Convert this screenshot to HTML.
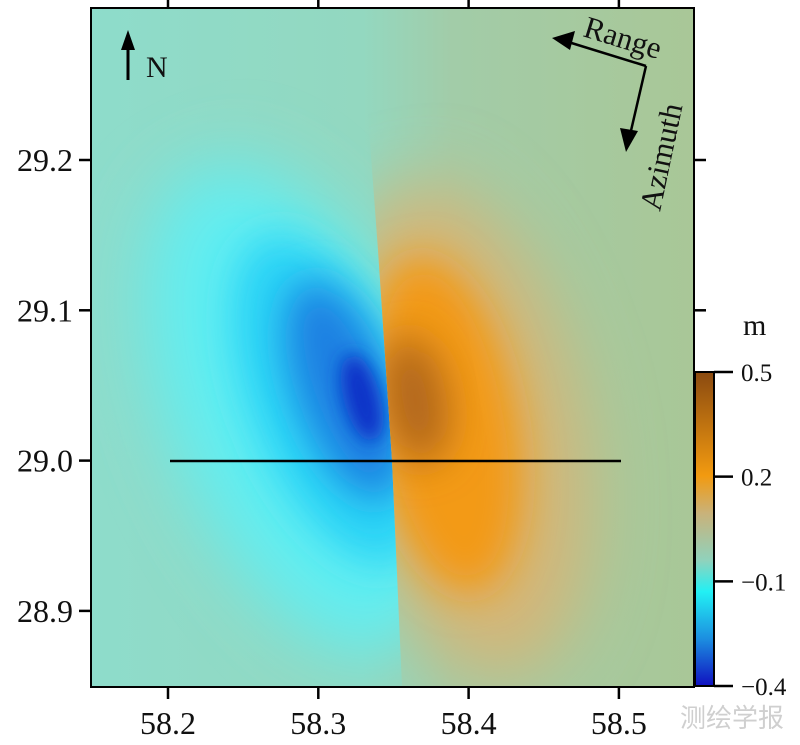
<!DOCTYPE html>
<html><head><meta charset="utf-8"><style>
body{margin:0;background:#fff;width:800px;height:740px;overflow:hidden}
svg text{font-family:"Liberation Serif","DejaVu Serif",serif;font-style:normal;fill:#111}
</style></head><body>
<svg width="800" height="740" font-family="Liberation Serif, serif">
<defs>
<linearGradient id="bg" x1="0" x2="1" y1="0" y2="0">
<stop offset="0" stop-color="#8edccb"/><stop offset="0.45" stop-color="#93d8c0"/><stop offset="0.6" stop-color="#a2cca8"/><stop offset="1" stop-color="#a9c797"/>
</linearGradient>
<linearGradient id="cb" x1="0" x2="0" y1="0" y2="1">
<stop offset="0" stop-color="#8a4a10"/><stop offset="0.33" stop-color="#f29a10"/><stop offset="0.45" stop-color="#c9b27a"/><stop offset="0.6" stop-color="#90d2bc"/><stop offset="0.7" stop-color="#22f0f4"/><stop offset="0.85" stop-color="#1c8ee0"/><stop offset="1" stop-color="#1010c0"/>
</linearGradient>
<filter id="b1" x="-50%" y="-50%" width="200%" height="200%"><feGaussianBlur stdDeviation="35"/></filter>
<filter id="b2" x="-50%" y="-50%" width="200%" height="200%"><feGaussianBlur stdDeviation="20"/></filter>
<filter id="b3" x="-50%" y="-50%" width="200%" height="200%"><feGaussianBlur stdDeviation="9"/></filter>
<clipPath id="plot"><rect x="91" y="8" width="603" height="679"/></clipPath>
<clipPath id="left"><polygon points="91,8 360,8 378,250 392,460 402,687 91,687"/></clipPath>
<clipPath id="right"><polygon points="360,8 694,8 694,687 402,687 392,460 378,250"/></clipPath>
</defs>
<g clip-path="url(#plot)">
<rect x="91" y="8" width="603" height="679" fill="url(#bg)"/>
<g clip-path="url(#left)">
<ellipse cx="300" cy="410" rx="130" ry="260" transform="rotate(-22 300 410)" fill="#60eef2" filter="url(#b1)"/>
<ellipse cx="330" cy="400" rx="80" ry="175" transform="rotate(-22 330 400)" fill="#2ad4f6" filter="url(#b2)"/>
<ellipse cx="345" cy="390" rx="48" ry="115" transform="rotate(-20 345 390)" fill="#1a80e2" filter="url(#b2)"/>
<ellipse cx="362" cy="398" rx="18" ry="45" transform="rotate(-15 362 398)" fill="#1030c8" filter="url(#b3)"/>
</g>
<g clip-path="url(#right)">
<ellipse cx="460" cy="430" rx="120" ry="250" transform="rotate(-12 460 430)" fill="#d6b576" filter="url(#b1)"/>
<ellipse cx="445" cy="425" rx="72" ry="170" transform="rotate(-10 445 425)" fill="#f39a16" filter="url(#b2)"/>
<ellipse cx="415" cy="400" rx="32" ry="65" transform="rotate(-10 415 400)" fill="#b0661a" filter="url(#b2)"/>
</g>
</g>
<rect x="91" y="8" width="603" height="679" fill="none" stroke="#000" stroke-width="2"/>
<line x1="170" y1="461" x2="621" y2="461" stroke="#000" stroke-width="2.5"/>
<g id="axes"></g>
<g>
<line x1="128" y1="80" x2="128" y2="40" stroke="#000" stroke-width="3"/>
<polygon points="121,50 128,30 135,50" fill="#000"/>
<text x="146" y="77" font-size="30">N</text>
</g>
<g>
<line x1="646" y1="66" x2="565" y2="41" stroke="#000" stroke-width="2.5"/>
<polygon points="552,38 575,31 570,50" fill="#000"/>
<line x1="646" y1="66" x2="630" y2="135" stroke="#000" stroke-width="2.5"/>
<polygon points="626,152 620,128 638,131" fill="#000"/>
<text x="582" y="36" font-size="31" transform="rotate(17 582 36)">Range</text>
<text x="660" y="212" font-size="31" transform="rotate(-78 660 212)">Azimuth</text>
</g>
<rect x="695" y="372" width="19" height="314" fill="url(#cb)" stroke="#000" stroke-width="2"/>
<text x="743" y="335" font-size="30">m</text>
<text x="680" y="727" font-size="26" style="fill:#cfcfcf;font-family:'Noto Sans CJK SC',sans-serif">测绘学报</text>
</svg>
<script>
const xTicks=[58.2,58.3,58.4,58.5];
const yTicks=[29.2,29.1,29.0,28.9];
const cbTicks=[0.5,0.2,-0.1,-0.4];
const X=v=>168+(v-58.2)/0.1*150.3;
const Y=v=>160+(29.2-v)/0.1*150.3;
const C=v=>372+(0.5-v)/0.9*314;
const g=document.getElementById('axes');
const NS='http://www.w3.org/2000/svg';
function mk(t,a){const e=document.createElementNS(NS,t);for(const k in a)e.setAttribute(k,a[k]);g.appendChild(e);return e;}
xTicks.forEach(v=>{
 const x=X(v);
 const t1=mk('line',{x1:x,y1:687,x2:x,y2:699,stroke:'#000','stroke-width':2.5});
 
 
 const t2=mk('line',{x1:x,y1:0,x2:x,y2:8,stroke:'#000','stroke-width':2.5});
 
 
 const tx=mk('text',{x:x,y:734,'font-size':32,'text-anchor':'middle'});
 tx.textContent=v.toFixed(1);
 
 
});
yTicks.forEach(v=>{
 const y=Y(v);
 const t1=mk('line',{x1:79,y1:y,x2:91,y2:y,stroke:'#000','stroke-width':2.5});
 
 
 const t2=mk('line',{x1:694,y1:y,x2:706,y2:y,stroke:'#000','stroke-width':2.5});
 
 
 const tx=mk('text',{x:73,y:y+11,'font-size':32,'text-anchor':'end'});
 tx.textContent=v.toFixed(1);
 
 
});
cbTicks.forEach(v=>{
 const y=C(v);
 const t1=mk('line',{x1:714,y1:y,x2:733,y2:y,stroke:'#000','stroke-width':2.5});
 
 
 const tx=mk('text',{x:741,y:y+9,'font-size':25});
 tx.textContent=(v<0?'\u2212':'')+Math.abs(v).toFixed(1);
 
 
});
</script>
</body></html>
